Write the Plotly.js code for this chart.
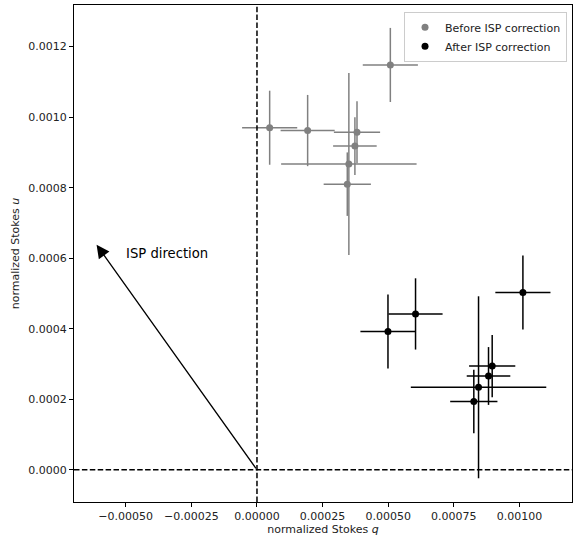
<!DOCTYPE html>
<html>
<head>
<meta charset="utf-8">
<script src="https://cdn.plot.ly/plotly-3.0.1.min.js"></script>
<style>html,body{margin:0;padding:0;background:#fff;}#chart{width:573px;height:538px;}</style>
</head>
<body>
<div id="chart"></div>
<script>
// Normalized Stokes parameters before ISP correction
const qBefore = [0.0000483, 0.000193, 0.000508, 0.000381, 0.000373, 0.000350, 0.000344];
const uBefore = [0.000970, 0.000962, 0.001148, 0.000957, 0.000918, 0.000867, 0.000810];
// After ISP correction
const qAfter = [0.000499, 0.000604, 0.001013, 0.000896, 0.000882, 0.000844, 0.000826];
const uAfter = [0.000392, 0.000442, 0.000503, 0.000294, 0.000266, 0.000234, 0.000194];
// Uncertainties (same for both series)
const errQ = [0.000105, 0.000103, 0.000105, 0.000088, 0.000083, 0.000258, 0.000090];
const errU = [0.000105, 0.000101, 0.000105, 0.000088, 0.000082, 0.000258, 0.000090];
// ISP direction arrow tip and label position
const ispDirection = [-0.000611, 0.000638];
const ispLabelPos = [-0.0005, 0.0006];
const seriesNames = ["Before ISP correction", "After ISP correction"];

const FONT = "DejaVu Sans, sans-serif";

const traces = [
  {
    x: qBefore, y: uBefore, type: "scatter", mode: "markers", name: seriesNames[0],
    marker: {color: "#808080", size: 7},
    error_x: {type: "data", array: errQ, visible: true, color: "#808080", thickness: 1.5, width: 0},
    error_y: {type: "data", array: errU, visible: true, color: "#808080", thickness: 1.5, width: 0}
  },
  {
    x: qAfter, y: uAfter, type: "scatter", mode: "markers", name: seriesNames[1],
    marker: {color: "#000000", size: 7},
    error_x: {type: "data", array: errQ, visible: true, color: "#000000", thickness: 1.5, width: 0},
    error_y: {type: "data", array: errU, visible: true, color: "#000000", thickness: 1.5, width: 0}
  }
];

const layout = {
  width: 573, height: 538,
  margin: {l: 74, r: 1, t: 5, b: 36},
  paper_bgcolor: "#fff", plot_bgcolor: "#fff",
  font: {family: FONT, size: 11, color: "#222"},
  showlegend: true,
  legend: {
    x: 0.99, xanchor: "right", y: 0.9865, yanchor: "top",
    bgcolor: "rgba(255,255,255,0.8)", bordercolor: "#cccccc", borderwidth: 1,
    font: {family: FONT, size: 11, color: "#222"}
  },
  xaxis: {
    range: [-0.000697, 0.0012], autorange: false,
    tick0: -0.0005, dtick: 0.00025, tickformat: ".5f",
    showgrid: false, zeroline: false,
    showline: true, linecolor: "#000", linewidth: 1, mirror: true,
    ticks: "outside", ticklen: 4, tickwidth: 1, tickcolor: "#000",
    tickfont: {family: FONT, size: 11, color: "#222"},
    title: {text: "normalized Stokes <i>q</i>", font: {family: FONT, size: 11, color: "#222"}, standoff: 3},
    automargin: false
  },
  yaxis: {
    range: [-0.0000913, 0.001318], autorange: false,
    tick0: 0, dtick: 0.0002, tickformat: ".4f",
    showgrid: false, zeroline: false,
    showline: true, linecolor: "#000", linewidth: 1, mirror: true,
    ticks: "outside", ticklen: 4, tickwidth: 1, tickcolor: "#000",
    tickfont: {family: FONT, size: 11, color: "#222"},
    title: {text: "normalized Stokes <i>u</i>", font: {family: FONT, size: 11, color: "#222"}, standoff: 6},
    automargin: false
  },
  shapes: [
    {type: "line", xref: "paper", x0: 0, x1: 1, yref: "y", y0: 0, y1: 0,
     line: {color: "#000", width: 1.5, dash: "5.5px,2.4px"}},
    {type: "line", yref: "paper", y0: 0, y1: 1, xref: "x", x0: 0, x1: 0,
     line: {color: "#000", width: 1.5, dash: "5.5px,2.4px"}}
  ],
  annotations: [
    {
      x: ispDirection[0], y: ispDirection[1], xref: "x", yref: "y",
      ax: 0, ay: 0, axref: "x", ayref: "y",
      text: "", showarrow: true, arrowhead: 2, arrowsize: 2, arrowwidth: 1.3, arrowcolor: "#000"
    },
    {
      x: ispLabelPos[0], y: ispLabelPos[1], xref: "x", yref: "y",
      text: "ISP direction", showarrow: false, xanchor: "left", yanchor: "bottom", yshift: -5, xshift: -2,
      font: {family: FONT, size: 13.2, color: "#000"}
    }
  ]
};

Plotly.newPlot("chart", traces, layout, {displayModeBar: false, staticPlot: true});
</script>
</body>
</html>
